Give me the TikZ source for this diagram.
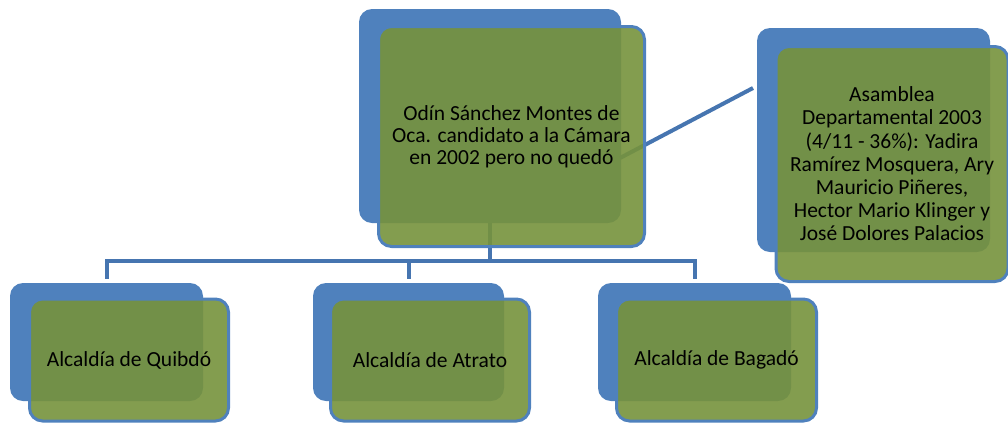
\documentclass[tikz,border=0pt]{standalone}
\usepackage{fontspec}
\setmainfont{Carlito}
\definecolor{boxblue}{RGB}{79,129,189}
\definecolor{lineblue}{RGB}{70,117,176}
\definecolor{boxgreen}{RGB}{118,146,60}
\tikzset{
  backbox/.style={fill=boxblue, draw=none, rounded corners=13pt, inner sep=0pt},
  frontbox/.style={fill=boxgreen, fill opacity=0.9, text opacity=1, draw=boxblue, line width=3pt,
    rounded corners=13pt, inner sep=0pt, align=center, text=black},
  link/.style={draw=lineblue, line width=4pt},
}
\begin{document}
\begin{tikzpicture}[x=1pt,y=-1pt]
\useasboundingbox (0,0) rectangle (1008,424);
% back boxes
\node[backbox, minimum width=262pt, minimum height=214pt] (topb) at (490,116) {};
\node[backbox, minimum width=233pt, minimum height=224pt] (asab) at (873.5,140) {};
\node[backbox, minimum width=193pt, minimum height=118pt] (quib) at (106.5,342) {};
\node[backbox, minimum width=191pt, minimum height=118pt] (atrb) at (408.5,342) {};
\node[backbox, minimum width=193pt, minimum height=118pt] (bagb) at (694.5,342) {};
% connectors
\coordinate (bus) at (490,261);
\coordinate (d1) at (620,158);
\coordinate (d2) at (753,88);
\draw[link] (topb.south) -- (bus);
\draw[link, line cap=rect] (quib.north |- bus) -- (bagb.north |- bus);
\draw[link] (quib.north |- bus) -- ++(0,18);
\draw[link] (atrb.north |- bus) -- ++(0,18);
\draw[link] (bagb.north |- bus) -- ++(0,18);
\draw[link] (d1) -- (d2);
% front boxes
\node[frontbox, minimum width=266pt, minimum height=220pt, font=\fontsize{21.5}{21.8}\selectfont] (top) at (511.5,136.5)
  {Odín Sánchez Montes de\\Oca. candidato a la Cámara\\en 2002 pero no quedó};
\node[frontbox, minimum width=232pt, minimum height=235pt, font=\fontsize{21.5}{23.2}\selectfont] (asa) at (892,164)
  {Asamblea\\Departamental 2003\\(4/11 - 36\%): Yadira\\Ramírez Mosquera, Ary\\Mauricio Piñeres,\\Hector Mario Klinger y\\José Dolores Palacios};
\node[frontbox, minimum width=199pt, minimum height=122pt, font=\fontsize{21.5}{23}\selectfont] (qui) at (129,360) {Alcaldía de Quibdó};
\node[frontbox, minimum width=199pt, minimum height=122pt, font=\fontsize{21.5}{23}\selectfont] (atr) at (430,360) {Alcaldía de Atrato};
\node[frontbox, minimum width=200pt, minimum height=122pt, font=\fontsize{21.5}{23}\selectfont] (bag) at (716.5,360) {Alcaldía de Bagadó};
\end{tikzpicture}
\end{document}
